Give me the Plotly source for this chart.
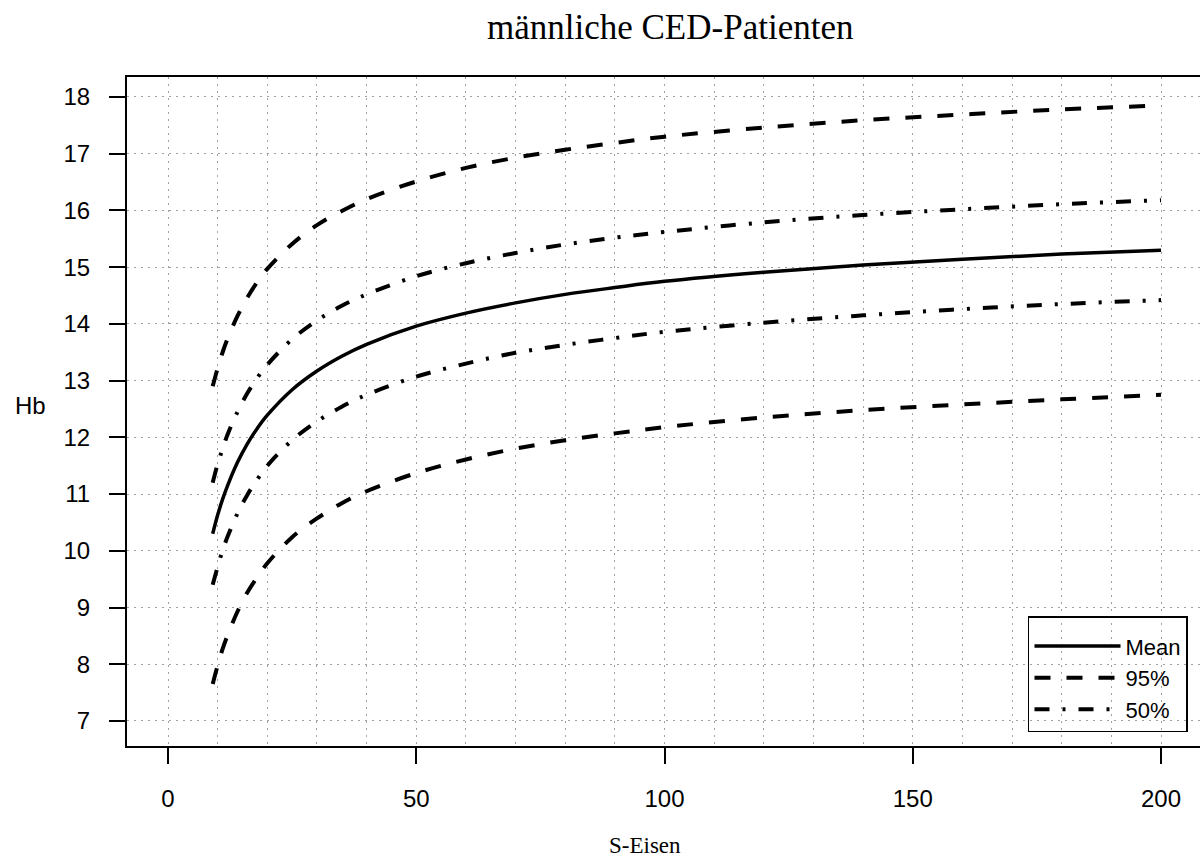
import plotly.graph_objects as go

s_eisen = [9, 10, 11, 12, 14, 16, 18, 20, 25, 30, 35, 40, 50, 60, 70, 80, 90, 100, 120, 140, 160, 180, 200]

hb_mean = [10.30, 10.63, 10.91, 11.15, 11.56, 11.89, 12.16, 12.39, 12.84, 13.17, 13.43, 13.64,
           13.96, 14.19, 14.37, 14.52, 14.64, 14.75, 14.91, 15.04, 15.14, 15.23, 15.30]
hb_95_upper = [12.90, 13.22, 13.50, 13.74, 14.14, 14.47, 14.74, 14.97, 15.41, 15.74, 15.99, 16.20,
               16.51, 16.75, 16.93, 17.07, 17.19, 17.30, 17.46, 17.59, 17.69, 17.78, 17.85]
hb_95_lower = [7.65, 7.98, 8.27, 8.51, 8.93, 9.27, 9.54, 9.78, 10.24, 10.57, 10.84, 11.05,
               11.37, 11.61, 11.80, 11.95, 12.07, 12.18, 12.35, 12.48, 12.58, 12.67, 12.75]
hb_50_upper = [11.20, 11.53, 11.80, 12.05, 12.45, 12.78, 13.05, 13.28, 13.73, 14.06, 14.32, 14.52,
               14.84, 15.07, 15.25, 15.40, 15.52, 15.62, 15.79, 15.92, 16.02, 16.11, 16.18]
hb_50_lower = [9.40, 9.72, 10.01, 10.25, 10.66, 10.99, 11.26, 11.50, 11.95, 12.28, 12.54, 12.75,
               13.07, 13.30, 13.49, 13.63, 13.75, 13.86, 14.02, 14.15, 14.26, 14.35, 14.42]

x_ticks = [0, 50, 100, 150, 200]
y_ticks = list(range(7, 19))

DASH_95 = "16px,16px"
DASH_50 = "15px,13px,3px,13px"

fig = go.Figure()
fig.add_trace(go.Scatter(x=s_eisen, y=hb_mean, mode="lines", name="Mean",
                         line=dict(color="black", width=3.5, shape="spline")))
fig.add_trace(go.Scatter(x=s_eisen, y=hb_95_upper, mode="lines", name="95%", legendgroup="95",
                         line=dict(color="black", width=4, dash=DASH_95, shape="spline")))
fig.add_trace(go.Scatter(x=s_eisen, y=hb_95_lower, mode="lines", name="95%", legendgroup="95",
                         showlegend=False,
                         line=dict(color="black", width=4, dash=DASH_95, shape="spline")))
fig.add_trace(go.Scatter(x=s_eisen, y=hb_50_upper, mode="lines", name="50%", legendgroup="50",
                         line=dict(color="black", width=4, dash=DASH_50, shape="spline")))
fig.add_trace(go.Scatter(x=s_eisen, y=hb_50_lower, mode="lines", name="50%", legendgroup="50",
                         showlegend=False,
                         line=dict(color="black", width=4, dash=DASH_50, shape="spline")))

grid = dict(showgrid=True, gridcolor="#a0a0a0", gridwidth=1, griddash="2px,5px")
axis_common = dict(showline=True, linecolor="black", linewidth=2, ticks="outside",
                   ticklen=16, tickwidth=2, tickcolor="black", zeroline=False,
                   tickfont=dict(family="Liberation Sans, Arial", size=24, color="black"))

fig.update_xaxes(range=[-8.26, 207.85], tickvals=x_ticks, mirror=True,
                 minor=dict(dtick=10, tick0=0, ticks="", **grid),
                 ticklabelstandoff=14, **grid, **axis_common)
fig.update_yaxes(range=[6.559, 18.352], tickvals=y_ticks, mirror=False,
                 ticklabelstandoff=14, **grid, **axis_common)

fig.update_layout(
    width=1200, height=860, autosize=False,
    margin=dict(l=127, r=0, t=77, b=114),
    plot_bgcolor="white", paper_bgcolor="white",
    showlegend=True,
    legend=dict(x=0.8397, y=0.1943, xanchor="left", yanchor="top",
                bgcolor="rgba(0,0,0,0)", bordercolor="black", borderwidth=1.5,
                font=dict(family="Liberation Sans, Arial", size=22, color="black"),
                title=dict(text=" ", font=dict(size=6)),
                itemwidth=86, entrywidth=200, tracegroupgap=0),
    annotations=[
        dict(text="männliche CED-Patienten", xref="paper", yref="paper", x=0.506, y=1.074,
             xanchor="center", yanchor="middle", showarrow=False,
             font=dict(family="Liberation Serif, Times New Roman", size=35, color="black")),
        dict(text="S-Eisen", xref="paper", yref="paper", x=0.4828, y=-0.148,
             xanchor="center", yanchor="middle", showarrow=False,
             font=dict(family="Liberation Serif, Times New Roman", size=23, color="black")),
        dict(text="Hb", xref="paper", yref="paper", x=-0.0895, y=0.5097,
             xanchor="center", yanchor="middle", showarrow=False,
             font=dict(family="Liberation Sans, Arial", size=24, color="black")),
    ],
)

fig.write_html("out.html", config={"displayModeBar": False},
               post_script="document.body.style.margin='0';")
